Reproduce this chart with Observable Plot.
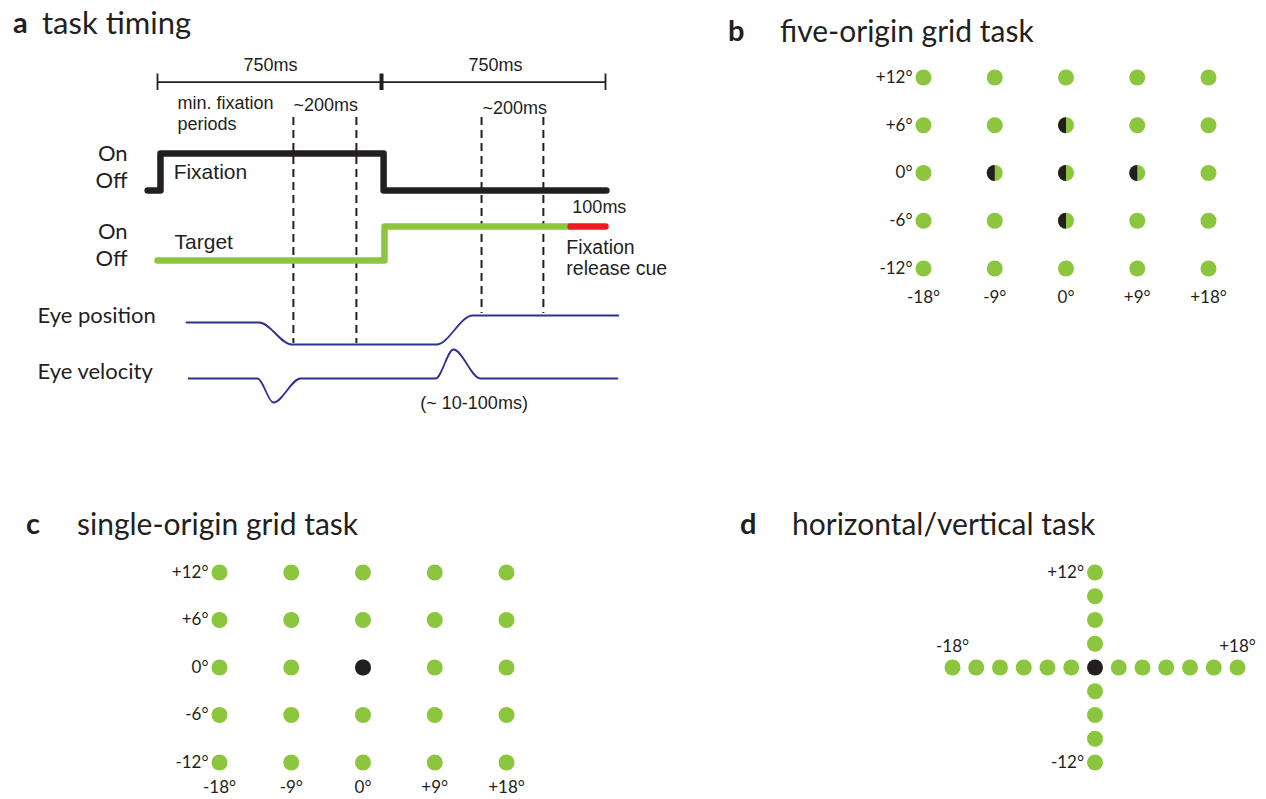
<!DOCTYPE html>
<html><head><meta charset="utf-8">
<script src="https://cdn.jsdelivr.net/npm/d3@7"></script>
<script src="https://cdn.jsdelivr.net/npm/@observablehq/plot@0.6"></script>
<style>
body{margin:0;background:#fff;}
#fig{position:relative;width:1266px;height:799px;overflow:hidden;background:#fff;color:#231f20;}
#fig svg{position:absolute;left:0;top:0;background:transparent;}
.lt{position:absolute;font-family:Lato,sans-serif;font-weight:700;font-size:29px;line-height:30px;color:#231f20;white-space:nowrap;}
.tt{position:absolute;font-family:Lato,sans-serif;font-size:30px;line-height:30px;color:#231f20;white-space:nowrap;}
</style></head><body><div id="fig"></div>
<script>
const W = 1266, H = 799;
const GREEN = "#8cc63f", INK = "#231f20", BLUE = "#2e3192", RED = "#ed1c24";

// ---------- panel titles ----------
const panelLetters = ["a", "b", "c", "d"];
const panelTitles = ["task timing", "five-origin grid task", "single-origin grid task", "horizontal/vertical task"];

// ---------- panel a: time (ms) vs diagram level units ----------
const timeMarks = [0, 750, 1500];
const timeMarkWeights = [1.8, 4, 1.8];
const fixationSignal = [[-33, 19.0], [10, 19.0], [10, 15.3], [757, 15.3], [757, 19.0], [1503, 19.0]];
const targetSignal = [[0, 26.0], [760, 26.0], [760, 22.6], [1383, 22.6]];
const releaseCue = [[1383, 22.6], [1500, 22.6]];
const windowTimes = [455, 666, 1085, 1292];
const windowBottoms = [34.3, 34.3, 31.3, 31.3];
const eyePosition = [[97, 32.2], [341, 32.2], [449, 34.4], [934, 34.4], [1055, 31.5], [1543, 31.5]];
const eyeVelocity = [[104, 37.8], [335, 37.8], [388, 40.2], [479, 37.8], [931, 37.8], [991, 34.9], [1081, 37.8], [1540, 37.8]];
const labelsCentered = [
  ["750ms", 378, 6.5],
  ["750ms", 1132, 6.5]
];
const labelsSmall = [
  ["min. fixation", 67, 10.3],
  ["periods", 67, 12.4],
  ["~200ms", 455, 10.5],
  ["~200ms", 1088, 10.8],
  ["100ms", 1389, 20.7],
  ["(~ 10-100ms)", 880, 40.3]
];
const labelsMid = [
  ["Fixation", 1369, 24.7],
  ["release cue", 1369, 26.8]
];
const labelsSignal = [
  ["Fixation", 54, 17.2],
  ["Target", 57, 24.2]
];
const labelsState = [
  ["On", -100, 15.3],
  ["Off", -100, 18.0],
  ["On", -100, 23.1],
  ["Off", -100, 25.8]
];
const labelsTrace = [
  ["Eye position", -402, 31.5],
  ["Eye velocity", -402, 37.1]
];

// ---------- panels b & c: grid tasks (degrees) ----------
const gridX = [-18, -9, 0, 9, 18];
const gridY = [12, 6, 0, -6, -12];
const gridXLabels = ["-18°", "-9°", "0°", "+9°", "+18°"];
const gridYLabels = ["+12°", "+6°", "0°", "-6°", "-12°"];
const fiveOrigins = [[0, 6], [-9, 0], [0, 0], [9, 0], [0, -6]];
const singleOrigin = [[0, 0]];

// ---------- panel d: horizontal / vertical task (degrees) ----------
const hvHorizontal = [-18, -15, -12, -9, -6, -3, 0, 3, 6, 9, 12, 15, 18];
const hvVertical = [12, 9, 6, 3, -3, -6, -9, -12];
const hvLabels = [["+12°", 0, 12, "v"], ["-12°", 0, -12, "v"], ["-18°", -18, 0, "h"], ["+18°", 18, 0, "h"]];

// left-half disc symbol
const halfDisc = {
  draw(ctx, size) {
    const r = Math.sqrt(size / Math.PI);
    ctx.moveTo(0, -r);
    ctx.arc(0, 0, r, -Math.PI / 2, Math.PI / 2, true);
    ctx.closePath();
  }
};

const fig = document.getElementById("fig");
const base = {width: W, height: H, margin: 0, style: {background: "transparent", overflow: "visible"}};

// titles
const titlePos = [[13, 42, 7], [728, 780, 15], [26, 77, 508], [740, 792, 508]];
titlePos.forEach(([lx, tx, ty], i) => {
  const a = document.createElement("div"); a.className = "lt"; a.textContent = panelLetters[i];
  a.style.left = lx + "px"; a.style.top = ty + "px"; fig.appendChild(a);
  const t = document.createElement("div"); t.className = "tt"; t.textContent = panelTitles[i];
  t.style.left = tx + "px"; t.style.top = ty + "px";
  if (i === 0) t.style.fontSize = "31px";
  fig.appendChild(t);
});

const ARIAL = "Liberation Sans, Arial, sans-serif";
const SANS = "Lato, sans-serif";
const txt = (data, opts) => Plot.text(data, {x: d => d[1], y: d => d[2], text: d => d[0], fill: INK, ...opts});

// panel a
const pa = Plot.plot({
  ...base,
  x: {domain: [0, 1500], range: [157, 605], axis: null},
  y: {domain: [0, 43], range: [0, 430], axis: null},
  marks: [
    Plot.ruleY([8.17], {x1: 0, x2: 1500, stroke: INK, strokeWidth: 1.8}),
    Plot.ruleX(timeMarks, {x: d => d, y1: 7.35, y2: 9.0, stroke: INK, strokeWidth: (d, i) => timeMarkWeights[i]}),
    Plot.ruleX(windowTimes, {x: d => d, y1: 11.7, y2: (d, i) => windowBottoms[i], stroke: INK, strokeWidth: 2, strokeDasharray: "8,5"}),
    Plot.line(fixationSignal, {x: d => d[0], y: d => d[1], stroke: INK, strokeWidth: 6.5, strokeLinecap: "round", strokeLinejoin: "round"}),
    Plot.line(targetSignal, {x: d => d[0], y: d => d[1], stroke: GREEN, strokeWidth: 6.5, strokeLinecap: "round", strokeLinejoin: "round"}),
    Plot.line(releaseCue, {x: d => d[0], y: d => d[1], stroke: RED, strokeWidth: 6.5, strokeLinecap: "round"}),
    Plot.line(eyePosition, {x: d => d[0], y: d => d[1], stroke: BLUE, strokeWidth: 1.8, curve: "monotone-x"}),
    Plot.line(eyeVelocity, {x: d => d[0], y: d => d[1], stroke: BLUE, strokeWidth: 1.8, curve: "monotone-x"}),
    txt(labelsCentered, {textAnchor: "middle", fontFamily: ARIAL, fontSize: 18}),
    txt(labelsSmall, {textAnchor: "start", fontFamily: ARIAL, fontSize: 18}),
    txt(labelsMid, {textAnchor: "start", fontFamily: ARIAL, fontSize: 19.5}),
    txt(labelsSignal, {textAnchor: "start", fontFamily: ARIAL, fontSize: 21}),
    txt(labelsState, {textAnchor: "end", fontFamily: SANS, fontSize: 22}),
    txt(labelsTrace, {textAnchor: "start", fontFamily: SANS, fontSize: 22})
  ]
});
fig.appendChild(pa);

function gridPanel(xr, yr, origins, originSymbol, labelGap) {
  const pts = gridY.flatMap(y => gridX.map(x => [x, y]));
  return Plot.plot({
    ...base,
    x: {domain: [-18, 18], range: xr, axis: null},
    y: {domain: [-12, 12], range: yr, axis: null},
    marks: [
      Plot.dot(pts, {x: d => d[0], y: d => d[1], r: 8, fill: GREEN}),
      Plot.dot(origins, {x: d => d[0], y: d => d[1], r: 8, fill: INK, symbol: originSymbol}),
      Plot.text(gridX, {x: d => d, y: -12, text: (d, i) => gridXLabels[i], dy: labelGap, fontFamily: SANS, fontSize: 17, fill: INK}),
      Plot.text(gridY, {x: -18, y: d => d, text: (d, i) => gridYLabels[i], dx: -11, textAnchor: "end", fontFamily: SANS, fontSize: 17, fill: INK})
    ]
  });
}
fig.appendChild(gridPanel([923, 1208], [268, 77], fiveOrigins, halfDisc, 29));
fig.appendChild(gridPanel([219, 506], [762, 572], singleOrigin, "circle", 25));

const pd = Plot.plot({
  ...base,
  x: {domain: [-18, 18], range: [952, 1237], axis: null},
  y: {domain: [-12, 12], range: [762, 572], axis: null},
  marks: [
    Plot.dot(hvHorizontal, {x: d => d, y: 0, r: 8, fill: d => d === 0 ? INK : GREEN}),
    Plot.dot(hvVertical, {x: 0, y: d => d, r: 8, fill: GREEN}),
    txt(hvLabels.filter(d => d[3] === "v"), {dx: -11, textAnchor: "end", fontFamily: SANS, fontSize: 17}),
    txt(hvLabels.filter(d => d[3] === "h"), {dy: -21, fontFamily: SANS, fontSize: 17})
  ]
});
fig.appendChild(pd);
</script></body></html>
